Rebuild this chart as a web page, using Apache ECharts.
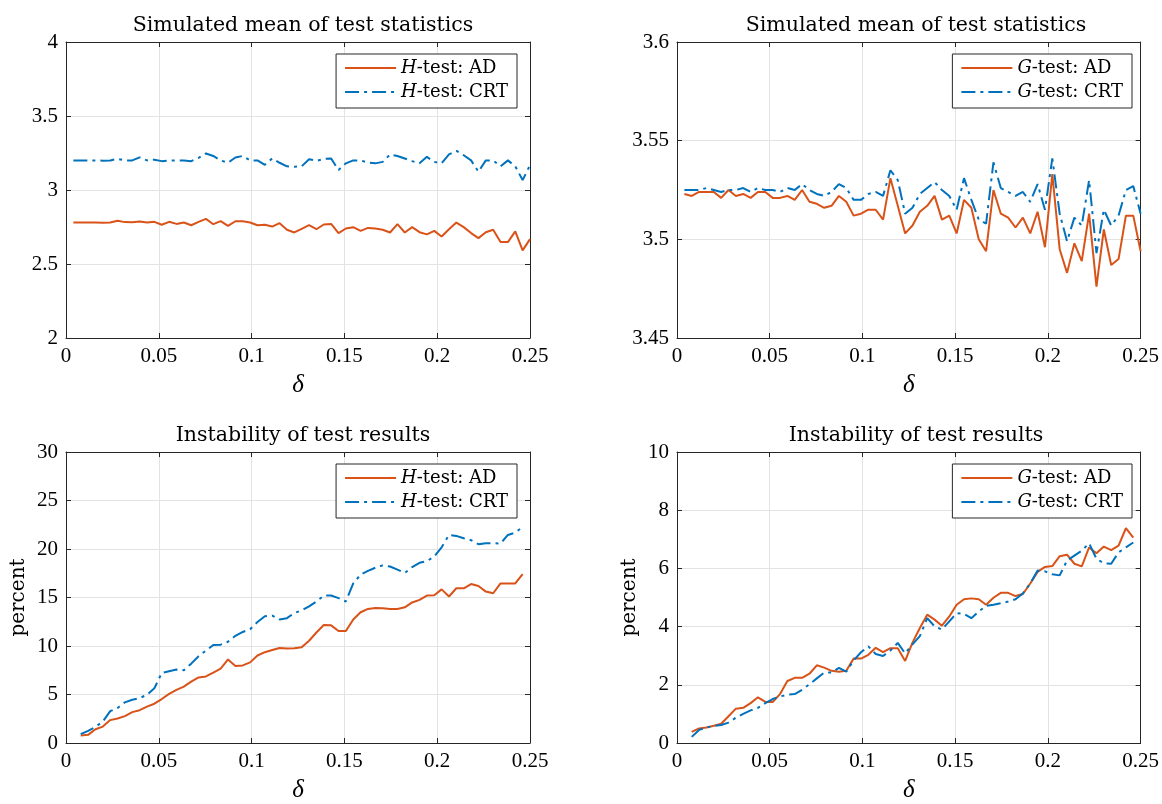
<!DOCTYPE html>
<html>
<head>
<meta charset="utf-8">
<script src="https://cdn.jsdelivr.net/npm/echarts@6/dist/echarts.min.js"></script>
<style>
  html, body { margin: 0; padding: 0; background: #ffffff; }
  #chart { width: 1162px; height: 804px; }
</style>
</head>
<body>
<div id="chart"></div>
<script>
// Perturbation grid: delta_k = 0.25 * k / 63
const deltaTop = [];
for (let k = 1; k <= 63; k++) deltaTop.push(0.25 * k / 63);
// instability is reported for the inner points k = 2 .. 62
const deltaBottom = deltaTop.slice(1, 62);

// Simulated mean of the H-test statistic
const meanH_AD = [
  2.78, 2.78, 2.78, 2.78, 2.779, 2.78, 2.792, 2.783, 2.782, 2.787,
  2.78, 2.785, 2.765, 2.785, 2.771, 2.78, 2.762, 2.785, 2.805, 2.769,
  2.79, 2.758, 2.789, 2.789, 2.78, 2.762, 2.765, 2.753, 2.776, 2.731,
  2.713, 2.738, 2.762, 2.735, 2.767, 2.771, 2.709, 2.740, 2.749, 2.724,
  2.744, 2.74, 2.731, 2.713, 2.769, 2.713, 2.749, 2.715, 2.70, 2.724,
  2.686, 2.735, 2.78, 2.749, 2.709, 2.675, 2.715, 2.731, 2.648, 2.648,
  2.72, 2.592, 2.668
];
const meanH_CRT = [
  3.20, 3.20, 3.20, 3.20, 3.198, 3.20, 3.21, 3.20, 3.20, 3.22,
  3.20, 3.205, 3.195, 3.20, 3.20, 3.20, 3.195, 3.217, 3.247, 3.23,
  3.20, 3.184, 3.22, 3.23, 3.20, 3.20, 3.17, 3.213, 3.184, 3.16,
  3.157, 3.16, 3.208, 3.197, 3.21, 3.213, 3.135, 3.18, 3.2, 3.2,
  3.185, 3.18, 3.19, 3.24, 3.23, 3.213, 3.195, 3.18, 3.224, 3.19,
  3.18, 3.24, 3.265, 3.235, 3.20, 3.123, 3.20, 3.2, 3.16, 3.2,
  3.16, 3.067, 3.168
];

// Simulated mean of the G-test statistic
const meanG_AD = [
  3.523, 3.522, 3.524, 3.524, 3.524, 3.521, 3.525, 3.522, 3.523, 3.521,
  3.524, 3.524, 3.521, 3.521, 3.522, 3.520, 3.525, 3.519, 3.518, 3.516,
  3.517, 3.522, 3.519, 3.512, 3.513, 3.515, 3.515, 3.510, 3.531, 3.517,
  3.503, 3.507, 3.514, 3.517, 3.522, 3.510, 3.512, 3.503, 3.520, 3.516,
  3.500, 3.494, 3.525, 3.513, 3.511, 3.506, 3.511, 3.503, 3.514, 3.496,
  3.533, 3.495, 3.483, 3.498, 3.489, 3.513, 3.476, 3.505, 3.487, 3.490,
  3.512, 3.512, 3.494
];
const meanG_CRT = [
  3.525, 3.525, 3.525, 3.526, 3.525, 3.524, 3.525, 3.525, 3.526, 3.524,
  3.526, 3.525, 3.525, 3.524, 3.526, 3.525, 3.528, 3.525, 3.523, 3.522,
  3.524, 3.528, 3.526, 3.520, 3.520, 3.523, 3.524, 3.522, 3.535, 3.530,
  3.513, 3.516, 3.523, 3.526, 3.529, 3.525, 3.522, 3.515, 3.531, 3.520,
  3.510, 3.508, 3.539, 3.526, 3.524, 3.522, 3.524, 3.519, 3.528, 3.515,
  3.541, 3.513, 3.499, 3.511, 3.507, 3.530, 3.493, 3.515, 3.507, 3.512,
  3.525, 3.527, 3.513
];

// Instability of test results (percent)
const instH_AD = [
  0.78, 0.84, 1.42, 1.69, 2.36, 2.53, 2.77, 3.18, 3.38, 3.75,
  4.05, 4.53, 5.07, 5.47, 5.81, 6.32, 6.76, 6.86, 7.26, 7.67,
  8.61, 7.94, 8.0, 8.31, 9.02, 9.36, 9.59, 9.80, 9.73, 9.76,
  9.86, 10.54, 11.39, 12.16, 12.13, 11.55, 11.55, 12.74, 13.48, 13.82,
  13.92, 13.89, 13.82, 13.82, 13.99, 14.49, 14.76, 15.2, 15.24, 15.84,
  15.1, 15.95, 15.95, 16.39, 16.18, 15.61, 15.44, 16.45, 16.45, 16.45,
  17.4
];
const instH_CRT = [
  0.91, 1.25, 1.66, 2.2, 3.28, 3.61, 4.19, 4.46, 4.63, 4.97,
  5.64, 7.23, 7.40, 7.57, 7.5, 8.18, 8.95, 9.53, 10.1, 10.14,
  10.44, 11.05, 11.45, 11.72, 12.47, 13.07, 13.14, 12.74, 12.87, 13.4,
  13.68, 14.09, 14.59, 15.2, 15.2, 14.93, 14.59, 16.45, 17.36, 17.74,
  18.07, 18.31, 18.2, 17.87, 17.53, 18.14, 18.58, 18.75, 19.22, 20.17,
  21.45, 21.35, 21.11, 20.91, 20.5, 20.6, 20.6, 20.57, 21.45, 21.69,
  22.26
];
const instG_AD = [
  0.38, 0.50, 0.53, 0.59, 0.66, 0.92, 1.18, 1.21, 1.37, 1.57,
  1.41, 1.41, 1.68, 2.13, 2.24, 2.24, 2.38, 2.67, 2.59, 2.48,
  2.45, 2.48, 2.90, 2.90, 3.03, 3.27, 3.12, 3.26, 3.26, 2.82,
  3.45, 3.95, 4.41, 4.24, 4.03, 4.35, 4.75, 4.94, 4.97, 4.94,
  4.75, 4.99, 5.16, 5.16, 5.05, 5.12, 5.48, 5.88, 6.05, 6.08,
  6.42, 6.47, 6.16, 6.07, 6.72, 6.52, 6.75, 6.63, 6.78, 7.38,
  7.06
];
const instG_CRT = [
  0.21, 0.45, 0.53, 0.59, 0.62, 0.70, 0.87, 1.0, 1.12, 1.21,
  1.37, 1.51, 1.60, 1.66, 1.68, 1.83, 2.02, 2.22, 2.42, 2.42,
  2.58, 2.45, 2.84, 3.12, 3.32, 3.06, 2.99, 3.18, 3.44, 3.08,
  3.39, 3.67, 4.29, 4.01, 3.9, 4.18, 4.46, 4.44, 4.29, 4.52,
  4.71, 4.75, 4.80, 4.86, 4.94, 5.14, 5.48, 5.93, 5.90, 5.80,
  5.76, 6.27, 6.44, 6.61, 6.86, 6.33, 6.18, 6.16, 6.55, 6.72,
  6.89
];

const titles = ['Simulated mean of test statistics', 'Simulated mean of test statistics',
                'Instability of test results', 'Instability of test results'];
const namesH = ['H-test: AD', 'H-test: CRT'];
const namesG = ['G-test: AD', 'G-test: CRT'];

const SERIF = '"Liberation Serif", "DejaVu Serif", serif';
const WIDE_SERIF = '"DejaVu Serif", "Liberation Serif", serif';
const INK = '#262626';
const ORANGE = '#D95319';
const BLUE = '#0072BD';
const GRIDLINE = '#e3e3e3';

const panels = [
  { left: 66,  top: 42,  width: 464, height: 296, yMin: 2,    yMax: 4,   yStep: 0.5,  yName: '' },
  { left: 677, top: 42,  width: 468, height: 296, yMin: 3.45, yMax: 3.6, yStep: 0.05, yName: '' },
  { left: 66,  top: 452, width: 464, height: 296, yMin: 0,    yMax: 30,  yStep: 5,    yName: 'percent' },
  { left: 677, top: 452, width: 468, height: 296, yMin: 0,    yMax: 10,  yStep: 2,    yName: 'percent' }
];

const fmt = v => String(+(+v).toFixed(4));

const grid = [], xAxis = [], yAxis = [], title = [], legend = [];

panels.forEach((p, i) => {
  grid.push({ left: p.left, top: p.top, width: p.width, height: p.height, containLabel: false });
  title.push({
    text: titles[i], left: p.left + p.width / 2, top: p.top - 32, textAlign: 'center',
    textStyle: { fontFamily: WIDE_SERIF, fontSize: 20.5, fontWeight: 'normal', color: '#000' }
  });
  // bottom x axis with labels, top x axis as the box edge
  xAxis.push({
    type: 'value', gridIndex: i, min: 0, max: 0.25, interval: 0.05, position: 'bottom',
    name: 'δ', nameLocation: 'middle', nameGap: 35,
    nameTextStyle: { fontFamily: SERIF, fontStyle: 'italic', fontSize: 25, color: '#000' },
    axisLine: { show: true, onZero: false, lineStyle: { color: INK, width: 1 } },
    axisTick: { show: true, inside: true, length: 5, lineStyle: { color: INK } },
    axisLabel: { fontFamily: SERIF, fontSize: 21, color: '#000', margin: 8, formatter: fmt },
    splitLine: { show: true, lineStyle: { color: GRIDLINE, width: 1 } }
  });
  xAxis.push({
    type: 'value', gridIndex: i, min: 0, max: 0.25, interval: 0.05, position: 'top',
    axisLine: { show: true, onZero: false, lineStyle: { color: INK, width: 1 } },
    axisTick: { show: true, inside: true, length: 5, lineStyle: { color: INK } },
    axisLabel: { show: false }, splitLine: { show: false }
  });
  yAxis.push({
    type: 'value', gridIndex: i, min: p.yMin, max: p.yMax, interval: p.yStep, position: 'left',
    name: p.yName, nameLocation: 'middle', nameGap: 37,
    nameTextStyle: { fontFamily: WIDE_SERIF, fontSize: 20, color: '#000' },
    axisLine: { show: true, onZero: false, lineStyle: { color: INK, width: 1 } },
    axisTick: { show: true, inside: true, length: 5, lineStyle: { color: INK } },
    axisLabel: { fontFamily: SERIF, fontSize: 21, color: '#000', margin: 8, formatter: fmt },
    splitLine: { show: true, lineStyle: { color: GRIDLINE, width: 1 } }
  });
  yAxis.push({
    type: 'value', gridIndex: i, min: p.yMin, max: p.yMax, interval: p.yStep, position: 'right',
    axisLine: { show: true, onZero: false, lineStyle: { color: INK, width: 1 } },
    axisTick: { show: true, inside: true, length: 5, lineStyle: { color: INK } },
    axisLabel: { show: false }, splitLine: { show: false }
  });
  legend.push({
    data: i % 2 === 0 ? namesH : namesG,
    orient: 'vertical', right: 1162 - (p.left + p.width - 13), top: p.top + 12,
    itemWidth: 51, itemHeight: 14, itemGap: 4,
    padding: [4, 9, 6, 8],
    borderColor: INK, borderWidth: 1, backgroundColor: '#ffffff',
    selectedMode: false,
    itemStyle: { opacity: 0, borderWidth: 0 },
    formatter: n => '{i|' + n.charAt(0) + '}' + n.slice(1),
    textStyle: {
      fontFamily: WIDE_SERIF, fontSize: 18, lineHeight: 20, color: '#000',
      rich: { i: { fontFamily: WIDE_SERIF, fontSize: 18, lineHeight: 20, fontStyle: 'italic', color: '#000' } }
    }
  });
});

function line(name, gi, xs, ys, color, dashed) {
  return {
    type: 'line', name: name, xAxisIndex: gi * 2, yAxisIndex: gi * 2,
    data: xs.map((x, j) => [x, ys[j]]),
    showSymbol: false, symbol: 'none', animation: false, clip: true,
    lineStyle: { color: color, width: 2, type: dashed ? [14, 5, 3, 5] : 'solid' },
    itemStyle: { color: color }
  };
}

const series = [
  line(namesH[0], 0, deltaTop, meanH_AD, ORANGE, false),
  line(namesH[1], 0, deltaTop, meanH_CRT, BLUE, true),
  line(namesG[0], 1, deltaTop, meanG_AD, ORANGE, false),
  line(namesG[1], 1, deltaTop, meanG_CRT, BLUE, true),
  line(namesH[0], 2, deltaBottom, instH_AD, ORANGE, false),
  line(namesH[1], 2, deltaBottom, instH_CRT, BLUE, true),
  line(namesG[0], 3, deltaBottom, instG_AD, ORANGE, false),
  line(namesG[1], 3, deltaBottom, instG_CRT, BLUE, true)
];

const chart = echarts.init(document.getElementById('chart'), null, { renderer: 'canvas' });
chart.setOption({
  backgroundColor: '#ffffff',
  animation: false,
  title: title,
  legend: legend,
  grid: grid,
  xAxis: xAxis,
  yAxis: yAxis,
  series: series
});
</script>
</body>
</html>
